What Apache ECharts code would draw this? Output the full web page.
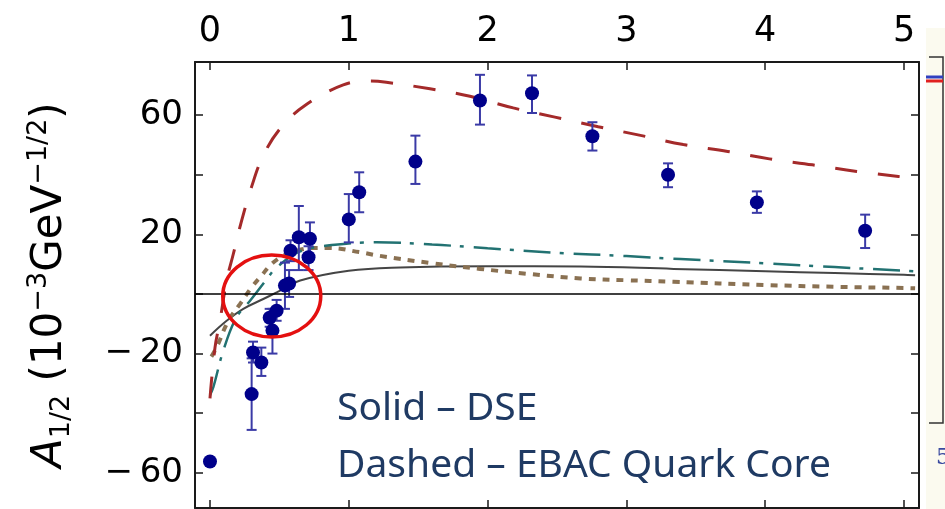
<!DOCTYPE html>
<html><head><meta charset="utf-8">
<script src="https://cdn.jsdelivr.net/npm/echarts@6/dist/echarts.min.js"></script>
<style>html,body{margin:0;padding:0;background:#fff}#c{width:945px;height:509px}</style>
</head><body><div id="c"></div>
<script>
// ---- data ----
const xTickLabels = ['0', '1', '2', '3', '4', '5'];
const yTickLabels = { '60': '60', '20': '20', '-20': '\u2212\u200920', '-60': '\u2212\u200960' };
const xRange = [-0.108, 5.108];
const yRange = [-71.8, 77.8];

// experimental points: Q^2, A1/2, lower, upper
const ptQ2   = [0.00, 0.30, 0.31, 0.37, 0.43, 0.45, 0.48, 0.54, 0.57, 0.58, 0.64, 0.71, 0.72, 1.00, 1.075, 1.48, 1.945, 2.32, 2.755, 3.30, 3.94, 4.72];
const ptA    = [-56.2, -33.6, -19.6, -23.0, -8.0, -12.3, -5.6, 2.8, 3.5, 14.5, 19.0, 12.3, 18.5, 25.0, 34.1, 44.4, 64.9, 67.3, 52.9, 40.0, 30.7, 21.2];
const ptLow  = [-56.2, -45.6, -23.0, -27.5, -11.0, -20.0, -9.0, -5.0, -1.0, 11.0, 8.0, 8.0, 13.0, 17.3, 27.4, 36.9, 56.8, 60.7, 48.1, 35.8, 27.2, 15.4];
const ptHigh = [-56.2, -21.6, -16.0, -18.0, -5.0, -5.0, -2.0, 10.5, 8.0, 18.0, 29.5, 16.0, 24.0, 33.5, 40.8, 53.1, 73.5, 73.3, 57.6, 43.8, 34.4, 26.6];

// curves [Q^2, A1/2]
const curveEBAC = [[0.0,-35],[0.036,-18],[0.072,-9],[0.12,4.5],[0.168,13.4],[0.228,24.6],[0.30,36],[0.38,46],[0.504,55.4],[0.684,63.2],[0.96,70.1],[1.15,71.4],[1.27,71.0],[1.585,68.8],[1.873,66.3],[2.185,62.4],[2.485,59.3],[2.797,56.1],[3.11,53.1],[3.41,50.1],[3.73,47.8],[4.03,45.3],[4.34,43.3],[4.66,41.1],[4.96,39.4],[5.08,38.8]];
const curveTeal = [[0.0,-34],[0.024,-31.3],[0.096,-19],[0.19,-7.9],[0.29,-2.2],[0.41,5],[0.48,8.9],[0.65,14.3],[0.9,16.5],[1.2,17.3],[1.6,16.6],[2.0,15.3],[2.5,13.8],[3.0,12.7],[3.39,11.7],[4.0,10.3],[4.5,9.0],[5.0,7.8],[5.08,7.6]];
const curveBrown = [[0.01,-21],[0.048,-17.9],[0.132,-9],[0.216,-3.4],[0.30,2.2],[0.37,6.1],[0.443,10],[0.53,12.8],[0.624,14.5],[0.75,15.4],[0.865,15.4],[1.08,14],[1.22,12.8],[1.6,10.3],[1.945,8.4],[2.3,6.7],[2.67,5.2],[3.0,4.6],[3.34,4.1],[4.0,3.0],[4.5,2.4],[5.0,2.0],[5.08,1.9]];
const curveDSE = [[0.0,-14],[0.12,-9],[0.24,-5],[0.384,-1.7],[0.48,0.5],[0.65,4.5],[1.0,7.8],[1.37,8.9],[2.0,9.3],[2.67,9.2],[3.34,8.4],[4.0,7.6],[4.5,7.0],[5.0,6.4],[5.08,6.3]];

const noteLines = ['Solid \u2013 DSE', 'Dashed \u2013 EBAC Quark Core'];
const circleCenter = [0.445, -0.7];

// ---- chart ----
const points = ptQ2.map((q, i) => [q, ptA[i]]);
const errs = ptQ2.map((q, i) => [q, ptLow[i], ptHigh[i]]);
const tickFont = 'DejaVu Sans';
const frame = { color: '#1a1a1a', width: 2 };
const tick = { inside: true, length: 8, lineStyle: { color: '#1a1a1a', width: 1.5 } };

const chart = echarts.init(document.getElementById('c'), null, { renderer: 'canvas' });
const option = {
  animation: false,
  backgroundColor: '#ffffff',
  grid: { left: 195, right: 26, top: 62, bottom: 1, containLabel: false },
  xAxis: [
    { type: 'value', position: 'top', min: xRange[0], max: xRange[1], minInterval: 1, maxInterval: 1,
      axisLine: { show: true, onZero: false, lineStyle: frame }, axisTick: tick, splitLine: { show: false },
      axisLabel: { showMinLabel: false, showMaxLabel: false, margin: 13, fontFamily: tickFont, fontSize: 35, color: '#000',
        formatter: v => xTickLabels.includes(String(v)) ? String(v) : '' } },
    { type: 'value', position: 'bottom', min: xRange[0], max: xRange[1], minInterval: 1, maxInterval: 1,
      axisLine: { show: true, onZero: false, lineStyle: frame }, axisTick: tick, splitLine: { show: false },
      axisLabel: { show: false } }
  ],
  yAxis: [
    { type: 'value', position: 'left', min: yRange[0], max: yRange[1], minInterval: 20, maxInterval: 20,
      axisLine: { show: true, onZero: false, lineStyle: frame }, axisTick: tick, splitLine: { show: false },
      axisLabel: { showMinLabel: false, showMaxLabel: false, margin: 12, fontFamily: tickFont, fontSize: 34, color: '#000',
        formatter: v => yTickLabels[String(v)] || '' },
      name: '{ai|A}{sub|1/2} (10{sup|\u22123}GeV{sup|\u22121/2})',
      nameLocation: 'middle', nameRotate: 90, nameGap: 120,
      nameTextStyle: { fontFamily: 'DejaVu Sans', fontSize: 42, color: '#000', lineHeight: 50,
        rich: {
          ai: { fontFamily: 'DejaVu Sans', fontStyle: 'italic', fontSize: 43, lineHeight: 50 },
          sub: { fontFamily: 'DejaVu Sans', fontSize: 27, verticalAlign: 'bottom', lineHeight: 30 },
          sup: { fontFamily: 'DejaVu Sans', fontSize: 27, verticalAlign: 'top', lineHeight: 26 }
        } } },
    { type: 'value', position: 'right', min: yRange[0], max: yRange[1], minInterval: 20, maxInterval: 20,
      axisLine: { show: true, onZero: false, lineStyle: frame }, axisTick: tick, splitLine: { show: false },
      axisLabel: { show: false } }
  ],
  series: [
    { type: 'line', name: 'DSE', data: curveDSE, smooth: 0.4, showSymbol: false, symbol: 'none',
      lineStyle: { color: '#454545', width: 2 }, z: 3,
      markLine: { silent: true, symbol: ['none', 'none'], label: { show: false },
        lineStyle: { color: '#000', type: 'solid', width: 1.6 }, data: [{ yAxis: 0 }] } },
    { type: 'line', name: 'brown', data: curveBrown, smooth: 0.4, symbol: 'none',
      lineStyle: { color: '#8a7152', width: 4, type: [7, 7] }, z: 3 },
    { type: 'line', name: 'teal', data: curveTeal, smooth: 0.4, symbol: 'none',
      lineStyle: { color: '#227272', width: 2.5, type: [27, 9, 4, 10] }, z: 3 },
    { type: 'line', name: 'EBAC', data: curveEBAC, smooth: 0.4, symbol: 'none',
      lineStyle: { color: '#a42a2a', width: 3, type: [22, 21] }, z: 3 },
    { type: 'custom', name: 'err', data: errs, z: 4,
      encode: { x: 0, y: [1, 2] },
      renderItem: (params, api) => {
        const q = api.value(0);
        const a = api.coord([q, api.value(1)]);
        const b = api.coord([q, api.value(2)]);
        const w = 5;
        const st = { stroke: '#3a3aa6', lineWidth: 2 };
        return { type: 'group', children: [
          { type: 'line', shape: { x1: a[0], y1: a[1], x2: b[0], y2: b[1] }, style: st },
          { type: 'line', shape: { x1: a[0] - w, y1: a[1], x2: a[0] + w, y2: a[1] }, style: st },
          { type: 'line', shape: { x1: b[0] - w, y1: b[1], x2: b[0] + w, y2: b[1] }, style: st }
        ] };
      } },
    { type: 'scatter', name: 'data', data: points, symbol: 'circle', symbolSize: 14,
      itemStyle: { color: '#00008a', opacity: 1 }, z: 5 }
  ]
};
chart.setOption(option);

const cc = chart.convertToPixel({ gridIndex: 0 }, circleCenter);
chart.setOption({
  graphic: [
    { type: 'ellipse', shape: { cx: cc[0], cy: cc[1], rx: 49, ry: 41 }, style: { fill: 'none', stroke: '#e41010', lineWidth: 3.5 }, z: 10 },
    { type: 'text', left: 337, top: 389, style: { text: noteLines[0], font: '39px "Noto Sans"', fill: '#1f3a63' }, z: 10 },
    { type: 'text', left: 337, top: 446, style: { text: noteLines[1], font: '39px "Noto Sans"', fill: '#1f3a63' }, z: 10 },
    // neighbouring cropped panel at the right edge
    { type: 'rect', shape: { x: 926, y: 28, width: 19, height: 481 }, style: { fill: '#fbfaef' }, z: 1 },
    { type: 'polyline', shape: { points: [[929, 57], [943, 57], [943, 423], [929, 423]] }, style: { stroke: '#333', lineWidth: 1.5, fill: 'none' }, z: 2 },
    { type: 'line', shape: { x1: 926, y1: 77, x2: 943, y2: 77 }, style: { stroke: '#3040c0', lineWidth: 3 }, z: 2 },
    { type: 'line', shape: { x1: 926, y1: 81, x2: 943, y2: 81 }, style: { stroke: '#e02020', lineWidth: 3 }, z: 2 },
    { type: 'group', z: 2, children: [93, 117, 140, 163, 187, 210, 233, 258, 282, 305, 328, 352, 377, 400].map(y => (
      { type: 'line', shape: { x1: 938, y1: y, x2: 943, y2: y }, style: { stroke: '#333', lineWidth: 1.2 } })) },
    { type: 'text', left: 936, top: 447, style: { text: '5', font: '22px "DejaVu Serif"', fill: '#3a4aa0' }, z: 2 }
  ]
});
</script></body></html>
